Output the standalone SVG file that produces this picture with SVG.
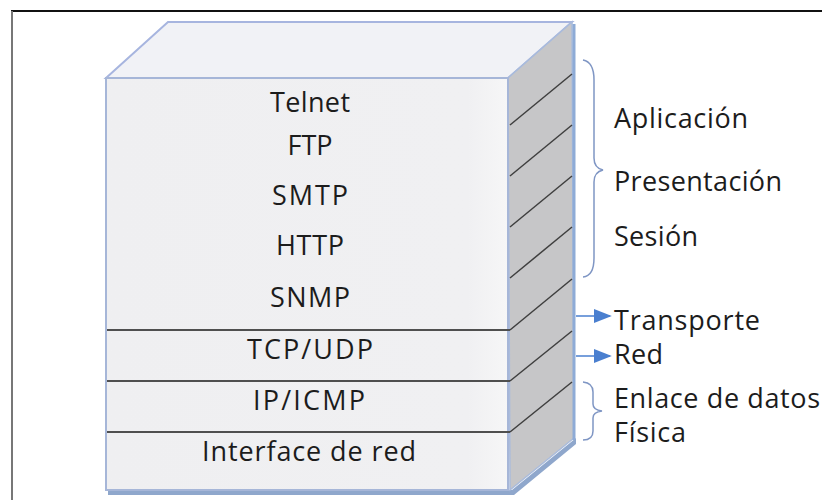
<svg xmlns="http://www.w3.org/2000/svg" width="822" height="500" viewBox="0 0 822 500">
  <defs>
    <style>
      .layer { font-family: "Open Sans", "Liberation Sans", sans-serif; font-size: 27px; fill: #1c1c1c; text-anchor: middle; }
      .osi { font-family: "Open Sans", "Liberation Sans", sans-serif; font-size: 27px; fill: #1c1c1c; }
      .div { stroke: #4f4f4f; stroke-width: 2; fill: none; }
      .hatch { stroke: #3f3f3f; stroke-width: 1.5; fill: none; }
      .brace { stroke: #7f96c4; stroke-width: 1.5; fill: none; }
      .arrow { stroke: #4a7fcf; stroke-width: 1.5; fill: none; }
    </style>
    <marker id="head" viewBox="0 0 10 10" refX="9" refY="5" markerWidth="12" markerHeight="12" markerUnits="strokeWidth" orient="auto">
      <path d="M0,1 L10,5 L0,9 Z" fill="#4a7fcf"/>
    </marker>
    <linearGradient id="front" x1="0" y1="0" x2="1" y2="0">
      <stop offset="0" stop-color="#efeff1"/>
      <stop offset="0.9" stop-color="#f0f0f2"/>
      <stop offset="1" stop-color="#f6f6f7"/>
    </linearGradient>
  </defs>

  <!-- frame -->
  <rect x="0" y="0" width="822" height="500" fill="#ffffff"/>
  <line x1="11" y1="11" x2="822" y2="11" stroke="#111" stroke-width="2"/>
  <line x1="12" y1="11" x2="12" y2="500" stroke="#777" stroke-width="2"/>

  <!-- protocol stack block -->
  <g id="stack">
    <!-- bottom shadow -->
    <polygon points="108,490 512,490 576,438 576,444 514,495 108,495" fill="#8fa7cc"/>
    <!-- top face -->
    <polygon points="106,78 168,22 572,22 508,78" fill="#f1f2f6" stroke="#a7b5df" stroke-width="2"/>
    <!-- side face -->
    <polygon points="508,78 572,22 574,438 510,490" fill="#c6c6c8" stroke="#a9bbdc" stroke-width="1.5"/>
    <line x1="574" y1="24" x2="574" y2="440" stroke="#8eabd6" stroke-width="3"/>
    <!-- front face -->
    <rect x="106" y="78" width="402" height="412" fill="url(#front)" stroke="#a6b6d8" stroke-width="2"/>
    <!-- layer dividers -->
    <line class="div" x1="107" y1="330" x2="510" y2="330"/>
    <line class="div" x1="107" y1="381" x2="510" y2="381"/>
    <line class="div" x1="107" y1="432" x2="510" y2="432"/>
    <!-- side hatching -->
    <line class="hatch" x1="510" y1="125" x2="572" y2="74"/>
    <line class="hatch" x1="510" y1="176" x2="572" y2="125"/>
    <line class="hatch" x1="510" y1="227" x2="572" y2="176"/>
    <line class="hatch" x1="510" y1="278" x2="572" y2="227"/>
    <line class="hatch" x1="510" y1="330" x2="572" y2="279"/>
    <line class="hatch" x1="510" y1="381" x2="572" y2="331"/>
    <line class="hatch" x1="510" y1="432" x2="572" y2="382"/>
  </g>

  <!-- protocol labels -->
  <g id="app-protocols">
    <text class="layer" x="310" y="112" textLength="80">Telnet</text>
    <text class="layer" x="310" y="155" textLength="45">FTP</text>
    <text class="layer" x="310" y="205" textLength="76">SMTP</text>
    <text class="layer" x="310" y="255" textLength="68">HTTP</text>
    <text class="layer" x="310" y="307" textLength="80">SNMP</text>
  </g>
  <g id="transport-layer">
    <text class="layer" x="310" y="359" textLength="126">TCP/UDP</text>
  </g>
  <g id="internet-layer">
    <text class="layer" x="309" y="410" textLength="112">IP/ICMP</text>
  </g>
  <g id="link-layer">
    <text class="layer" x="309" y="461" textLength="214">Interface de red</text>
  </g>

  <!-- connectors: braces and arrows -->
  <g id="connectors">
    <path class="brace" d="M583,60 Q594,62 594,80 L594,158 Q594,168 603,170 Q594,172 594,182 L594,258 Q594,276 583,277"/>
    <path class="brace" d="M583,382 Q593,383 593,392 L593,404 Q593,410 602,411 Q593,412 593,418 L593,431 Q593,440 583,440"/>
    <line class="arrow" x1="576" y1="316" x2="610" y2="316" marker-end="url(#head)"/>
    <line class="arrow" x1="576" y1="356" x2="610" y2="356" marker-end="url(#head)"/>
  </g>

  <!-- OSI layer names -->
  <g id="osi-upper">
    <text class="osi" x="614" y="128" textLength="134">Aplicación</text>
    <text class="osi" x="614" y="191" textLength="168">Presentación</text>
    <text class="osi" x="614" y="246" textLength="84">Sesión</text>
  </g>
  <g id="osi-transport">
    <text class="osi" x="614" y="330" textLength="146">Transporte</text>
  </g>
  <g id="osi-network">
    <text class="osi" x="614" y="364" textLength="49">Red</text>
  </g>
  <g id="osi-lower">
    <text class="osi" x="614" y="408" textLength="206">Enlace de datos</text>
    <text class="osi" x="614" y="442" textLength="72">Física</text>
  </g>
</svg>
